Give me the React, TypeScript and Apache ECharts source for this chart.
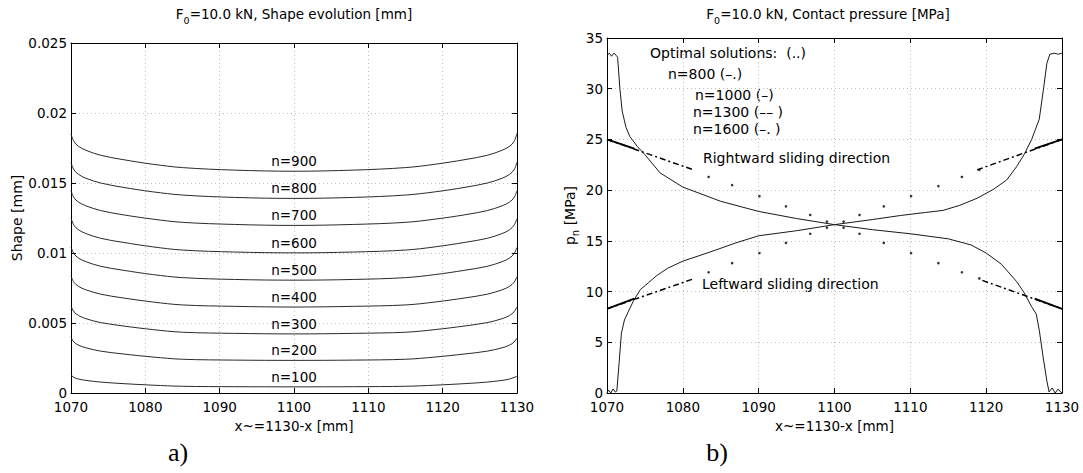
import React, { useEffect, useRef } from "react";
import * as echarts from "echarts";

const FONT = "DejaVu Sans";

// ---------- Left chart: shape evolution ----------
const SHAPE_X = [1070, 1070.4, 1071, 1072, 1074, 1077, 1081, 1085, 1092, 1100, 1108, 1115, 1119, 1123, 1126, 1128, 1129, 1129.6, 1130];
const SHAPE_LABELS = ["n=100", "n=200", "n=300", "n=400", "n=500", "n=600", "n=700", "n=800", "n=900"];
const SHAPE_100 = [0.00129, 0.00111, 0.001, 0.0009, 0.00078, 0.00067, 0.00056, 0.00048, 0.00045, 0.00044, 0.00045, 0.00048, 0.00056, 0.00067, 0.00078, 0.0009, 0.001, 0.00111, 0.00118];
const SHAPE_200 = [0.00398, 0.00364, 0.00342, 0.00323, 0.00299, 0.00279, 0.00257, 0.00241, 0.00235, 0.00233, 0.00235, 0.00241, 0.00257, 0.00279, 0.00299, 0.00323, 0.00342, 0.00364, 0.00392];
const SHAPE_300 = [0.00621, 0.0058, 0.00554, 0.00531, 0.00503, 0.00479, 0.00453, 0.00434, 0.00426, 0.00422, 0.00426, 0.00434, 0.00453, 0.00479, 0.00503, 0.00531, 0.00554, 0.0058, 0.00615];
const SHAPE_400 = [0.00836, 0.0079, 0.00762, 0.00737, 0.00706, 0.00679, 0.0065, 0.00629, 0.00619, 0.00614, 0.00619, 0.00629, 0.0065, 0.00679, 0.00706, 0.00737, 0.00762, 0.0079, 0.0083];
const SHAPE_500 = [0.01043, 0.00995, 0.00964, 0.00938, 0.00905, 0.00877, 0.00846, 0.00824, 0.00811, 0.00806, 0.00811, 0.00824, 0.00846, 0.00877, 0.00905, 0.00938, 0.00964, 0.00995, 0.0104];
const SHAPE_600 = [0.01248, 0.01198, 0.01166, 0.01139, 0.01105, 0.01076, 0.01044, 0.01021, 0.01007, 0.01001, 0.01007, 0.01021, 0.01044, 0.01076, 0.01105, 0.01139, 0.01166, 0.01198, 0.01245];
const SHAPE_700 = [0.01445, 0.01395, 0.01364, 0.01337, 0.01303, 0.01273, 0.01242, 0.01219, 0.01204, 0.01197, 0.01204, 0.01219, 0.01242, 0.01273, 0.01303, 0.01337, 0.01364, 0.01395, 0.01445];
const SHAPE_800 = [0.01645, 0.01594, 0.01562, 0.01534, 0.015, 0.01469, 0.01437, 0.01414, 0.01397, 0.0139, 0.01397, 0.01414, 0.01437, 0.01469, 0.015, 0.01534, 0.01562, 0.01594, 0.01648];
const SHAPE_900 = [0.01848, 0.01796, 0.01762, 0.01734, 0.01698, 0.01667, 0.01634, 0.0161, 0.01592, 0.01584, 0.01592, 0.0161, 0.01634, 0.01667, 0.01698, 0.01734, 0.01762, 0.01796, 0.01855];
const SHAPE_CURVES = [SHAPE_100, SHAPE_200, SHAPE_300, SHAPE_400, SHAPE_500, SHAPE_600, SHAPE_700, SHAPE_800, SHAPE_900];
const SHAPE_LABEL_X = 1100;
const SHAPE_Y_TICKS = { min: 0, max: 0.025, interval: 0.005 };

// ---------- Right chart: contact pressure ----------
const PRESS_DESC = [
  [1070, 33.3], [1070.3, 33.5], [1070.6, 33.2], [1070.9, 33.5], [1071.2, 33.3], [1071.4, 33.1],
  [1071.7, 30.0], [1072, 27.8], [1072.5, 26.2], [1073, 25.3], [1074, 24.3], [1075, 23.5],
  [1077, 21.7], [1080, 20.3], [1085, 18.9], [1090, 17.9], [1095, 17.2], [1100, 16.6],
  [1105, 16.1], [1110, 15.7], [1115, 15.2], [1118, 14.6], [1120, 13.8], [1122, 12.7],
  [1124, 11.0], [1125, 9.9], [1126, 8.5], [1126.6, 7.8], [1127, 6.2], [1127.5, 3.6],
  [1128, 1.2], [1128.3, 0.1], [1128.7, 0.5], [1129.1, 0.0], [1129.5, 0.4], [1129.8, 0.1], [1130, 0.0],
];
const PRESS_ASC = [
  [1070, 0.0], [1070.2, 0.3], [1070.5, 0.0], [1070.8, 0.4], [1071.1, 0.1], [1071.3, 0.2],
  [1071.6, 3.0], [1071.9, 5.9], [1072.3, 7.2], [1072.8, 8.0], [1073.5, 9.1], [1074.4, 10.2],
  [1075.5, 10.9], [1076.6, 11.6], [1078, 12.3], [1080, 13.0], [1083.6, 13.9], [1087, 14.8],
  [1090, 15.5], [1095, 16.0], [1100, 16.6], [1105, 17.1], [1108.7, 17.5], [1112, 17.8],
  [1114.3, 18.0], [1116.5, 18.5], [1118.8, 19.2], [1121, 20.1], [1122.7, 21.0], [1124, 22.3],
  [1125, 23.5], [1126, 25.0], [1126.5, 26.0], [1127, 27.0], [1127.6, 30.2], [1128, 32.5],
  [1128.4, 33.4], [1129, 33.5], [1129.5, 33.4], [1130, 33.5],
];
const OPT_DOT_X = [1083.4, 1086.5, 1090.1, 1093.6, 1096.8, 1099.0, 1101.2, 1103.3, 1106.5, 1110.1, 1113.7, 1116.8, 1119.1];
const OPT_RIGHTWARD_DOTS = [21.3, 20.5, 19.4, 18.4, 17.55, 16.9, 16.3, 15.7, 14.8, 13.8, 12.8, 11.9, 11.3];
const OPT_LEFTWARD_DOTS = [11.9, 12.8, 13.8, 14.8, 15.7, 16.3, 16.9, 17.55, 18.4, 19.4, 20.4, 21.3, 22.0];
const OPT_RIGHTWARD_EDGE_L = [[1070, 25.0], [1081.4, 22.0]];
const OPT_RIGHTWARD_EDGE_R = [[1119.5, 11.1], [1130, 8.3]];
const OPT_LEFTWARD_EDGE_L = [[1070, 8.3], [1081.2, 11.2]];
const OPT_LEFTWARD_EDGE_R = [[1118.8, 22.0], [1130, 25.0]];
const OPT_RIGHTWARD_THICK_L = [[1070, 25.0], [1073.6, 24.1]];
const OPT_RIGHTWARD_THICK_R = [[1126.4, 9.3], [1130, 8.3]];
const OPT_LEFTWARD_THICK_L = [[1070, 8.3], [1073.6, 9.3]];
const OPT_LEFTWARD_THICK_R = [[1126.4, 24.1], [1130, 25.0]];
const PRESS_Y_TICKS = { min: 0, max: 35, interval: 5 };
const X_TICKS = { min: 1070, max: 1130, interval: 10 };

const ANNOTATIONS = [
  { text: "Optimal solutions:  (..)", x: 650, y: 53 },
  { text: "n=800 (\u2013.)", x: 668, y: 74 },
  { text: "n=1000 (\u2013)", x: 695, y: 95 },
  { text: "n=1300 (\u2013\u2013 )", x: 693, y: 112 },
  { text: "n=1600 (\u2013. )", x: 693, y: 129 },
  { text: "Rightward sliding direction", x: 703, y: 158 },
  { text: "Leftward sliding direction", x: 702, y: 284 },
];

const BLACK = "#000";

function xAxes(gridIndex: number, name: string) {
  return [
    {
      gridIndex, type: "value", ...X_TICKS, position: "bottom",
      name, nameLocation: "middle", nameGap: 21,
      nameTextStyle: { color: BLACK, fontSize: 13.5, fontFamily: FONT },
      axisLine: { show: true, onZero: false, lineStyle: { color: BLACK, width: 1 } },
      axisTick: { show: true, inside: true, length: 5, lineStyle: { color: BLACK } },
      axisLabel: { color: BLACK, fontSize: 13.5, fontFamily: FONT, margin: 7, formatter: (v: number) => String(v) },
      splitLine: { show: true, lineStyle: { color: "#bdbdbd", type: [1, 3], width: 1 } },
    },
    {
      gridIndex, type: "value", ...X_TICKS, position: "top",
      axisLine: { show: true, onZero: false, lineStyle: { color: BLACK, width: 1 } },
      axisTick: { show: true, inside: true, length: 5, lineStyle: { color: BLACK } },
      axisLabel: { show: false },
      splitLine: { show: false },
    },
  ];
}

function yAxes(gridIndex: number, ticks: any, name: string, nameGap: number, rich: any) {
  return [
    {
      gridIndex, type: "value", ...ticks, position: "left",
      name, nameLocation: "middle", nameGap, nameRotate: 90,
      nameTextStyle: { color: BLACK, fontSize: 14, fontFamily: FONT, rich },
      axisLine: { show: true, onZero: false, lineStyle: { color: BLACK, width: 1 } },
      axisTick: { show: true, inside: true, length: 5, lineStyle: { color: BLACK } },
      axisLabel: { color: BLACK, fontSize: 13.5, fontFamily: FONT, margin: 4, verticalAlign: "middle" },
      splitLine: { show: true, lineStyle: { color: "#bdbdbd", type: [1, 3], width: 1 } },
    },
    {
      gridIndex, type: "value", ...ticks, position: "right",
      axisLine: { show: true, onZero: false, lineStyle: { color: BLACK, width: 1 } },
      axisTick: { show: true, inside: true, length: 5, lineStyle: { color: BLACK } },
      axisLabel: { show: false },
      splitLine: { show: false },
    },
  ];
}

function pairs(xs: number[], ys: number[]) {
  return xs.map((x, i) => [x, ys[i]]);
}

function segLine(data: number[][], type: any, width: number) {
  return {
    type: "line", xAxisIndex: 2, yAxisIndex: 2, data, showSymbol: false, silent: true,
    lineStyle: { color: BLACK, width, type },
  };
}

export default function App() {
  const ref = useRef<HTMLDivElement>(null);

  useEffect(() => {
    if (!ref.current) return;
    const chart = echarts.init(ref.current, undefined, { renderer: "svg" });

    const shapeSeries = SHAPE_CURVES.map((curve, i) => {
      const idx = SHAPE_X.indexOf(SHAPE_LABEL_X);
      return {
        type: "line", xAxisIndex: 0, yAxisIndex: 0, name: SHAPE_LABELS[i],
        data: pairs(SHAPE_X, curve), showSymbol: false, smooth: 0.35, silent: true,
        lineStyle: { color: "#2a2a2a", width: 1 },
        markPoint: {
          symbol: "circle", symbolSize: 0, silent: true,
          itemStyle: { color: "transparent" },
          label: {
            show: true, position: "top", distance: 3, formatter: SHAPE_LABELS[i],
            color: BLACK, fontSize: 13.5, fontFamily: FONT,
          },
          data: [{ coord: [SHAPE_LABEL_X, curve[idx]] }],
        },
      };
    });

    const titleRich = {
      a: { fontSize: 13.5, fontFamily: FONT, fill: BLACK, lineHeight: 22 },
      s: { fontSize: 9.5, fontFamily: FONT, fill: BLACK, lineHeight: 10, verticalAlign: "bottom" },
    };

    const option: any = {
      animation: false,
      backgroundColor: "#fff",
      grid: [
        { left: 71, top: 43, width: 446, height: 350 },
        { left: 607, top: 38, width: 455, height: 355 },
      ],
      xAxis: [...xAxes(0, "x~=1130-x [mm]"), ...xAxes(1, "x~=1130-x [mm]")],
      yAxis: [
        ...yAxes(0, SHAPE_Y_TICKS, "Shape [mm]", 44, undefined),
        ...yAxes(1, PRESS_Y_TICKS, "{a|p}{s|n}{a| [MPa]}", 27, {
          a: { fontSize: 14, fontFamily: FONT, color: BLACK, lineHeight: 20 },
          s: { fontSize: 10, fontFamily: FONT, color: BLACK, lineHeight: 10, verticalAlign: "bottom" },
        }),
      ],
      series: [
        ...shapeSeries,
        { type: "line", xAxisIndex: 2, yAxisIndex: 2, data: PRESS_DESC, showSymbol: false, silent: true, lineStyle: { color: "#1a1a1a", width: 1 } },
        { type: "line", xAxisIndex: 2, yAxisIndex: 2, data: PRESS_ASC, showSymbol: false, silent: true, lineStyle: { color: "#1a1a1a", width: 1 } },
        segLine(OPT_RIGHTWARD_EDGE_L, [6, 3, 2, 3], 1.5),
        segLine(OPT_RIGHTWARD_EDGE_R, [6, 3, 2, 3], 1.5),
        segLine(OPT_LEFTWARD_EDGE_L, [6, 3, 2, 3], 1.5),
        segLine(OPT_LEFTWARD_EDGE_R, [6, 3, 2, 3], 1.5),
        segLine(OPT_RIGHTWARD_THICK_L, "solid", 1.8),
        segLine(OPT_RIGHTWARD_THICK_R, "solid", 1.8),
        segLine(OPT_LEFTWARD_THICK_L, "solid", 1.8),
        segLine(OPT_LEFTWARD_THICK_R, "solid", 1.8),
        {
          type: "scatter", xAxisIndex: 2, yAxisIndex: 2, silent: true,
          data: pairs(OPT_DOT_X, OPT_RIGHTWARD_DOTS), symbol: "circle", symbolSize: 2.6,
          itemStyle: { color: BLACK },
        },
        {
          type: "scatter", xAxisIndex: 2, yAxisIndex: 2, silent: true,
          data: pairs(OPT_DOT_X, OPT_LEFTWARD_DOTS), symbol: "circle", symbolSize: 2.6,
          itemStyle: { color: BLACK },
        },
      ],
      graphic: [
        {
          type: "text", x: 294, y: 14, silent: true,
          style: {
            text: "{a|F}{s|0}{a|=10.0 kN, Shape evolution [mm]}", rich: titleRich,
            align: "center", verticalAlign: "middle", fill: BLACK, fontSize: 13.5, fontFamily: FONT,
          },
        },
        {
          type: "text", x: 828, y: 14, silent: true,
          style: {
            text: "{a|F}{s|0}{a|=10.0 kN, Contact pressure [MPa]}", rich: titleRich,
            align: "center", verticalAlign: "middle", fill: BLACK, fontSize: 13.5, fontFamily: FONT,
          },
        },
        ...ANNOTATIONS.map((a) => ({
          type: "text", x: a.x, y: a.y, silent: true,
          style: { text: a.text, align: "left", verticalAlign: "middle", fill: BLACK, fontSize: 14, fontFamily: FONT },
        })),
        {
          type: "text", x: 178, y: 452, silent: true,
          style: { text: "a)", align: "center", verticalAlign: "middle", fill: BLACK, fontSize: 26, fontFamily: "Liberation Serif" },
        },
        {
          type: "text", x: 717, y: 452, silent: true,
          style: { text: "b)", align: "center", verticalAlign: "middle", fill: BLACK, fontSize: 26, fontFamily: "Liberation Serif" },
        },
      ],
    };

    chart.setOption(option);
    return () => chart.dispose();
  }, []);

  return (
    <div
      ref={ref}
      style={{ position: "absolute", left: 0, top: 0, width: 1083, height: 473, background: "#fff" }}
    />
  );
}
